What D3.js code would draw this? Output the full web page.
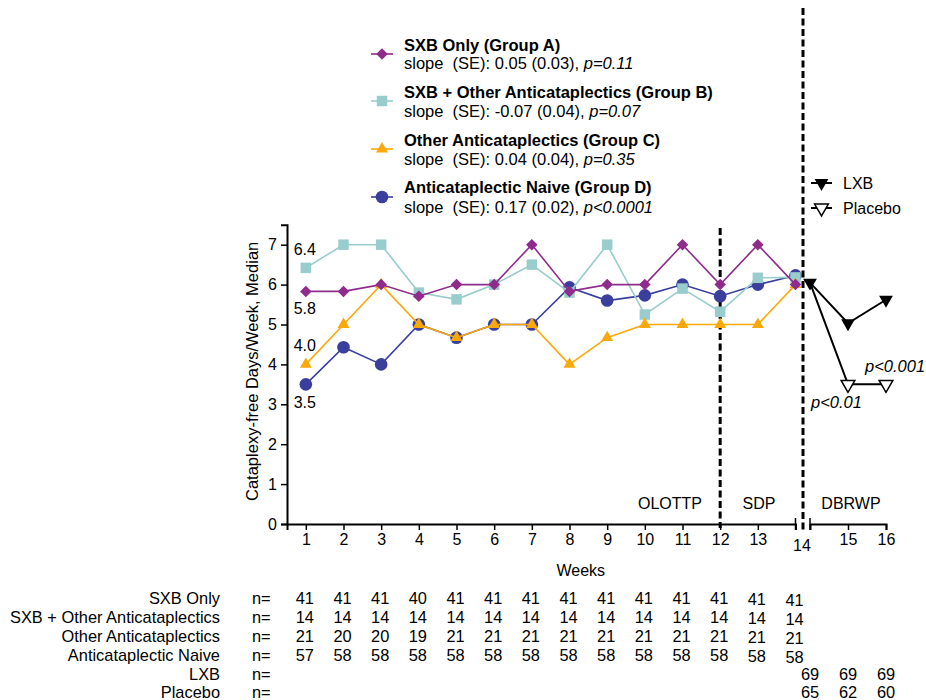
<!DOCTYPE html>
<html>
<head>
<meta charset="utf-8">
<script src="https://cdn.jsdelivr.net/npm/d3@7"></script>
<style>
  html, body { margin: 0; padding: 0; background: #fff; }
  svg { display: block; font-family: "Liberation Sans", Arial, Helvetica, sans-serif; }
  text { white-space: pre; }
</style>
</head>
<body>
<svg id="chart" width="926" height="700"></svg>
<script>
// ---------- DATA ----------
const weeks = [1,2,3,4,5,6,7,8,9,10,11,12,13,14];
const xTickLabels = ["1","2","3","4","5","6","7","8","9","10","11","12","13"];
const dbWeeks = [14,15,16];
const dbTickLabels = ["15","16"];
const yTicks = [0,1,2,3,4,5,6,7];

const groupA = [5.83,5.83,6.0,5.71,6.0,6.0,7.0,5.83,6.0,6.0,7.0,6.0,7.0,6.0];
const groupB = [6.42,7.0,7.0,5.8,5.63,6.0,6.5,5.8,7.0,5.25,5.9,5.32,6.17,6.18];
const groupC = [4.0,5.0,6.0,5.0,4.67,5.0,5.0,4.0,4.67,5.0,5.0,5.0,5.0,6.0];
const groupD = [3.5,4.43,4.0,5.0,4.67,5.0,5.0,5.93,5.6,5.73,6.0,5.71,6.0,6.23];
const lxb = [6.05,5.03,5.62];
const placebo = [6.05,3.5,3.5];

const groupNames = ["SXB Only (Group A)","SXB + Other Anticataplectics (Group B)","Other Anticataplectics (Group C)","Anticataplectic Naive (Group D)"];
const slopeTexts = ["slope  (SE): 0.05 (0.03), ","slope  (SE): -0.07 (0.04), ","slope  (SE): 0.04 (0.04), ","slope  (SE): 0.17 (0.02), "];
const pTexts = ["p=0.11","p=0.07","p=0.35","p<0.0001"];

const week1Labels = ["6.4","5.8","4.0","3.5"];

const tableLabels = ["SXB Only","SXB + Other Anticataplectics","Other Anticataplectics","Anticataplectic Naive","LXB","Placebo"];
const nSXB = [41,41,41,40,41,41,41,41,41,41,41,41,41,41];
const nSXBOther = [14,14,14,14,14,14,14,14,14,14,14,14,14,14];
const nOther = [21,20,20,19,21,21,21,21,21,21,21,21,21,21];
const nNaive = [57,58,58,58,58,58,58,58,58,58,58,58,58,58];
const nLXB = [69,69,69];
const nPlacebo = [65,62,60];

// ---------- SETUP ----------
const svg = d3.select("#chart");
const FS = 16;
const TFS = 16.4;
const colors = { A: "#8E2B8C", B: "#99CCCC", C: "#FBA90A", D: "#3A3F9E" };

const x = d3.scaleLinear().domain([0.5, 14]).range([287, 795.5]);
const x2 = d3.scaleLinear().domain([14, 16]).range([810, 886]);
const y = d3.scaleLinear().domain([0, 7.5]).range([524, 224.75]);

// dashed phase separators
svg.append("line").attr("x1", x(12)).attr("x2", x(12)).attr("y1", 228).attr("y2", y(0) + 4)
  .attr("stroke", "#000").attr("stroke-width", 3).attr("stroke-dasharray", "7,3.5");
svg.append("line").attr("x1", 803).attr("x2", 803).attr("y1", 8).attr("y2", 532)
  .attr("stroke", "#000").attr("stroke-width", 3).attr("stroke-dasharray", "7,3.5");

// ---------- AXES ----------
const yAxis = d3.axisLeft(y).tickValues(yTicks).tickFormat(d3.format("d")).tickSizeOuter(0).tickSize(6).tickPadding(4);
const gy = svg.append("g").attr("transform", `translate(${x(0.5)},0)`).call(yAxis);
gy.select(".domain").attr("stroke-width", 2);
gy.selectAll(".tick line").attr("stroke-width", 1.5);
gy.selectAll("text").attr("font-size", FS).attr("font-family", "Liberation Sans, Arial, sans-serif").attr("fill", "#000");

const xAxis = d3.axisBottom(x).tickValues(d3.range(1, 14)).tickFormat((d, i) => xTickLabels[i]).tickSizeOuter(0).tickSize(6).tickPadding(4);
const gx = svg.append("g").attr("transform", `translate(0,${y(0)})`).call(xAxis);
gx.select(".domain").attr("stroke-width", 2);
gx.selectAll(".tick line").attr("stroke-width", 1.5);
gx.selectAll("text").attr("font-size", FS).attr("font-family", "Liberation Sans, Arial, sans-serif").attr("fill", "#000");

const xAxis2 = d3.axisBottom(x2).tickValues([15, 16]).tickFormat((d, i) => dbTickLabels[i]).tickSizeOuter(0).tickSize(6).tickPadding(4);
const gx2 = svg.append("g").attr("transform", `translate(0,${y(0)})`).call(xAxis2);
gx2.select(".domain").attr("stroke-width", 2);
gx2.selectAll(".tick line").attr("stroke-width", 1.5);
gx2.selectAll("text").attr("font-size", FS).attr("font-family", "Liberation Sans, Arial, sans-serif").attr("fill", "#000");

// axis break marks
[x(14), x2(14)].forEach(px => {
  svg.append("line").attr("x1", px).attr("x2", px).attr("y1", y(0) - 6).attr("y2", y(0) + 6)
    .attr("stroke", "#000").attr("stroke-width", 1.5);
});
svg.append("text").attr("x", 802).attr("y", y(0) + 27).attr("text-anchor", "middle")
  .attr("font-size", FS).text("14");

svg.append("text").attr("x", x(8.3)).attr("y", 576).attr("text-anchor", "middle")
  .attr("font-size", FS).text("Weeks");

svg.append("text").attr("transform", `translate(258,${(y(0) + y(7.5)) / 2 - 3}) rotate(-90)`)
  .attr("text-anchor", "middle").attr("font-size", 16.5).text("Cataplexy-free Days/Week, Median");

// phase labels
svg.append("text").attr("x", 670).attr("y", 509).attr("text-anchor", "middle").attr("font-size", FS).text("OLOTTP");
svg.append("text").attr("x", 759).attr("y", 509).attr("text-anchor", "middle").attr("font-size", FS).text("SDP");
svg.append("text").attr("x", 851).attr("y", 509).attr("text-anchor", "middle").attr("font-size", FS).text("DBRWP");

// ---------- SERIES ----------
const sym = {
  A: d3.symbol().type(d3.symbolSquare).size(66),
  B: d3.symbol().type(d3.symbolSquare).size(110),
  C: d3.symbol().type(d3.symbolTriangle).size(62),
  D: d3.symbol().type(d3.symbolCircle).size(125)
};
const symRot = { A: 45, B: 0, C: 0, D: 0 };

const series = [
  { key: "D", vals: groupD },
  { key: "B", vals: groupB },
  { key: "C", vals: groupC },
  { key: "A", vals: groupA }
];
const line = d3.line().x(d => d[0]).y(d => d[1]);

series.forEach(s => {
  const pts = weeks.map((w, i) => [x(w), y(s.vals[i])]);
  svg.append("path").attr("d", line(pts)).attr("fill", "none")
    .attr("stroke", colors[s.key]).attr("stroke-width", 1.6);
  svg.append("g").selectAll("path").data(pts).join("path")
    .attr("d", sym[s.key]())
    .attr("transform", d => `translate(${d[0]},${d[1]}) rotate(${symRot[s.key]})`)
    .attr("fill", colors[s.key]);
});

// DB withdrawal
const triDown = d3.symbol().type(d3.symbolTriangle).size(82);
const lxbPts = dbWeeks.map((w, i) => [x2(w), y(lxb[i])]);
const plaPts = dbWeeks.map((w, i) => [x2(w), y(placebo[i])]);
svg.append("path").attr("d", line(plaPts)).attr("fill", "none").attr("stroke", "#000").attr("stroke-width", 2);
svg.append("path").attr("d", line(lxbPts)).attr("fill", "none").attr("stroke", "#000").attr("stroke-width", 2);
svg.append("g").selectAll("path").data(plaPts.slice(1)).join("path")
  .attr("d", triDown()).attr("transform", d => `translate(${d[0]},${d[1]}) rotate(180)`)
  .attr("fill", "#fff").attr("stroke", "#000").attr("stroke-width", 1.5);
svg.append("g").selectAll("path").data(lxbPts).join("path")
  .attr("d", triDown()).attr("transform", d => `translate(${d[0]},${d[1]}) rotate(180)`)
  .attr("fill", "#000");

// p-values
svg.append("text").attr("x", 811).attr("y", 408).attr("font-size", 16.5).attr("font-style", "italic").text("p<0.01");
svg.append("text").attr("x", 865).attr("y", 372).attr("font-size", 16.5).attr("font-style", "italic").text("p<0.001");

// week 1 value labels
const w1Y = [y(groupB[0]) - 13, y(groupA[0]) + 23, y(groupC[0]) - 13, y(groupD[0]) + 24];
week1Labels.forEach((t, i) => {
  svg.append("text").attr("x", x(1) - 1).attr("y", w1Y[i]).attr("text-anchor", "middle")
    .attr("font-size", FS).text(t);
});

// ---------- LEGEND ----------
const legKeys = ["A", "B", "C", "D"];
const titleY = [50.5, 98, 146, 193];
const subY = [69, 117, 165, 213];
const markY = [54, 101, 149, 197];
legKeys.forEach((k, i) => {
  svg.append("line").attr("x1", 371).attr("x2", 393).attr("y1", markY[i]).attr("y2", markY[i])
    .attr("stroke", colors[k]).attr("stroke-width", 1.6);
  svg.append("path").attr("d", sym[k]())
    .attr("transform", `translate(382,${markY[i]}) rotate(${symRot[k]})`).attr("fill", colors[k]);
  svg.append("text").attr("x", 404).attr("y", titleY[i]).attr("font-size", 16.5).attr("font-weight", "bold").text(groupNames[i]);
  const t = svg.append("text").attr("x", 404).attr("y", subY[i]).attr("font-size", 16.5);
  t.append("tspan").text(slopeTexts[i]);
  t.append("tspan").attr("font-style", "italic").text(pTexts[i]);
});

// LXB / Placebo legend
[["LXB", "#000", 183], ["Placebo", "#fff", 208]].forEach(([lab, fill, ly]) => {
  svg.append("line").attr("x1", 811).attr("x2", 832).attr("y1", ly).attr("y2", ly).attr("stroke", "#000").attr("stroke-width", 2);
  svg.append("path").attr("d", triDown()).attr("transform", `translate(821.5,${ly}) rotate(180)`)
    .attr("fill", fill).attr("stroke", "#000").attr("stroke-width", fill === "#fff" ? 1.5 : 0);
  svg.append("text").attr("x", 843).attr("y", ly + 6).attr("font-size", FS).text(lab);
});

// ---------- N TABLE ----------
const rowY = [604, 623, 642, 661, 680, 698];
const mainRows = [nSXB, nSXBOther, nOther, nNaive];
tableLabels.forEach((lab, r) => {
  svg.append("text").attr("x", 220).attr("y", rowY[r]).attr("text-anchor", "end").attr("font-size", TFS).text(lab);
  svg.append("text").attr("x", 252).attr("y", rowY[r]).attr("font-size", TFS).text("n=");
});
mainRows.forEach((arr, r) => {
  arr.forEach((v, i) => {
    const w = weeks[i];
    const px = w === 14 ? x(14) - 1 : x(w) - 1;
    const py = rowY[r] + (w === 14 ? 2 : (w === 13 ? 1 : 0));
    svg.append("text").attr("x", px).attr("y", py).attr("text-anchor", "middle").attr("font-size", TFS).text(v);
  });
});
[nLXB, nPlacebo].forEach((arr, r) => {
  arr.forEach((v, i) => {
    svg.append("text").attr("x", x2(dbWeeks[i])).attr("y", rowY[4 + r]).attr("text-anchor", "middle").attr("font-size", TFS).text(v);
  });
});
</script>
</body>
</html>
